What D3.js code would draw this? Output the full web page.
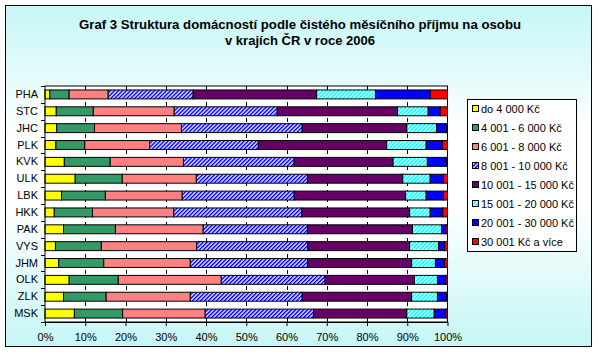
<!DOCTYPE html>
<html><head><meta charset="utf-8">
<script src="https://cdn.jsdelivr.net/npm/d3@7"></script>
<style>body{margin:0;background:#fff}svg{display:block;font-family:Arial,"Liberation Sans",sans-serif}</style>
</head><body><svg id="c" width="599" height="355"></svg>
<script>
const regions = ["PHA","STC","JHC","PLK","KVK","ULK","LBK","HKK","PAK","VYS","JHM","OLK","ZLK","MSK"];
const seriesNames = ["do 4 000 Kč","4 001 - 6 000 Kč","6 001 - 8 000 Kč","8 001 - 10 000 Kč","10 001 - 15 000 Kč","15 001 - 20 000 Kč","20 001 - 30 000 Kč","30 001 Kč a více"];
// percentage share of each income band, per region (same order as regions)
const s1 = [1.2,2.8,2.9,2.7,4.8,7.5,4.1,2.3,4.6,2.6,3.4,6.0,4.6,7.3];
const s2 = [4.8,9.2,9.4,7.2,11.4,11.7,10.9,9.5,12.9,11.4,11.2,12.2,10.6,12.0];
const s3 = [9.7,20.1,21.6,16.1,18.2,18.4,19.1,20.2,21.8,23.7,21.5,25.6,20.9,20.5];
const s4 = [21.1,25.6,30.0,27.0,27.5,27.6,27.8,31.8,25.9,27.6,29.2,25.8,27.8,26.9];
const s5 = [30.7,29.9,26.0,31.9,24.6,23.7,27.7,26.8,26.1,25.3,25.8,22.2,27.2,23.2];
const s6 = [14.6,7.6,7.4,9.8,8.5,6.8,5.1,5.1,7.2,7.2,5.9,5.7,6.4,6.8];
const s7 = [13.6,3.0,2.5,4.0,4.8,3.3,4.3,3.1,1.1,1.5,2.3,2.1,2.3,2.9];
const s8 = [4.3,1.8,0.2,1.3,0.2,1.0,1.0,1.2,0.4,0.7,0.7,0.4,0.2,0.4];
const xTicks = [0,10,20,30,40,50,60,70,80,90,100];
const titleLines = ["Graf 3 Struktura domácností podle čistého měsíčního příjmu na osobu","v krajích ČR v roce 2006"];

const allSeries = [s1,s2,s3,s4,s5,s6,s7,s8];
const fills = ["#ffff00","#339966","#ff8080","url(#hatchBlue)","#660066","url(#hatchCyan)","#0000ff","#ff0000"];

const svg = d3.select("#c");
const defs = svg.append("defs");
const bg = defs.append("linearGradient").attr("id","bg").attr("x1",0).attr("y1",0).attr("x2",0).attr("y2",1);
bg.append("stop").attr("offset","0%").attr("stop-color","#c6f6f6");
bg.append("stop").attr("offset","38%").attr("stop-color","#ffffff");
bg.append("stop").attr("offset","58%").attr("stop-color","#ffffff");
bg.append("stop").attr("offset","100%").attr("stop-color","#c6f6f6");
function hatch(id,col){
  const p = defs.append("pattern").attr("id",id).attr("patternUnits","userSpaceOnUse")
    .attr("width",2.83).attr("height",2.83).attr("patternTransform","rotate(45)");
  p.append("rect").attr("width",2.83).attr("height",2.83).attr("fill","#fff");
  p.append("rect").attr("width",1.5).attr("height",2.83).attr("fill",col);
}
hatch("hatchBlue","#0000ff");
hatch("hatchCyan","#00ffff");

svg.append("rect").attr("x",5.5).attr("y",5.5).attr("width",586).attr("height",341)
  .attr("fill","url(#bg)").attr("stroke","#000").attr("stroke-width",1);

const titleW = [442,150];
svg.append("g").selectAll("text").data(titleLines).join("text")
  .attr("x",300).attr("y",(d,i)=>29+i*16).attr("text-anchor","middle")
  .attr("font-size",13).attr("font-weight","bold")
  .attr("textLength",(d,i)=>titleW[i]).attr("lengthAdjust","spacingAndGlyphs")
  .text(d=>d);

const x = d3.scaleLinear().domain([0,100]).range([45,447.5]);
const y = d3.scaleBand().domain(regions).range([86,322]).paddingInner(0.47).paddingOuter(0.235);

const table = regions.map((r,i)=>{const o={region:r}; allSeries.forEach((s,k)=>o["k"+k]=s[i]); return o;});
const stack = d3.stack().keys(allSeries.map((s,k)=>"k"+k));
const stacked = stack(table);

// plot area
svg.append("rect").attr("x",x(0)).attr("y",86).attr("width",x(100)-x(0)).attr("height",236).attr("fill","#fff");
// dashed gridlines
svg.append("g").selectAll("line").data(xTicks.slice(1,-1)).join("line")
  .attr("x1",d=>Math.round(x(d))+0.5).attr("x2",d=>Math.round(x(d))+0.5).attr("y1",86).attr("y2",322)
  .attr("stroke","#000").attr("stroke-dasharray","4,4");

svg.append("g").selectAll("g").data(stacked).join("g")
  .attr("fill",(d,i)=>fills[i])
  .selectAll("rect").data(d=>d).join("rect")
  .attr("x",d=>x(d[0])).attr("width",d=>x(d[1])-x(d[0]))
  .attr("y",d=>y(d.data.region)).attr("height",y.bandwidth())
  .attr("stroke","#000").attr("stroke-width",1);

svg.append("rect").attr("x",x(0)).attr("y",86).attr("width",x(100)-x(0)).attr("height",236)
  .attr("fill","none").attr("stroke","#000");

// x axis
const xa = svg.append("g").attr("transform","translate(0,322)")
  .call(d3.axisBottom(x).tickValues(xTicks).tickFormat(d=>d+"%").tickSize(4).tickSizeOuter(0));
xa.select(".domain").attr("stroke","#000");
xa.selectAll("text").attr("font-size",11).attr("font-family","Arial,'Liberation Sans',sans-serif").attr("fill","#000").attr("dy","1.1em");

// y axis
const ya = svg.append("g").attr("transform","translate(45,0)")
  .call(d3.axisLeft(y).tickSize(0).tickPadding(7));
ya.select(".domain").remove();
ya.selectAll("text").attr("font-size",11).attr("font-family","Arial,'Liberation Sans',sans-serif").attr("fill","#000");
const bounds = regions.map(r=>y(r)-y.step()*y.paddingInner()/2).concat([322]);
svg.append("g").selectAll("line").data(bounds).join("line")
  .attr("x1",41).attr("x2",45).attr("y1",d=>Math.round(d)+0.5).attr("y2",d=>Math.round(d)+0.5).attr("stroke","#000");

// legend
const lg = svg.append("g");
lg.append("rect").attr("x",467.5).attr("y",99.5).attr("width",109).attr("height",152).attr("fill","#fff").attr("stroke","#000");
const li = lg.selectAll("g").data(seriesNames).join("g").attr("transform",(d,i)=>`translate(0,${109+i*19})`);
li.append("rect").attr("x",472.5).attr("y",-3.5).attr("width",6).attr("height",6).attr("fill",(d,i)=>fills[i]).attr("stroke","#000");
li.append("text").attr("x",481).attr("y",4).attr("font-size",11).attr("fill","#000").text(d=>d);
</script></body></html>
